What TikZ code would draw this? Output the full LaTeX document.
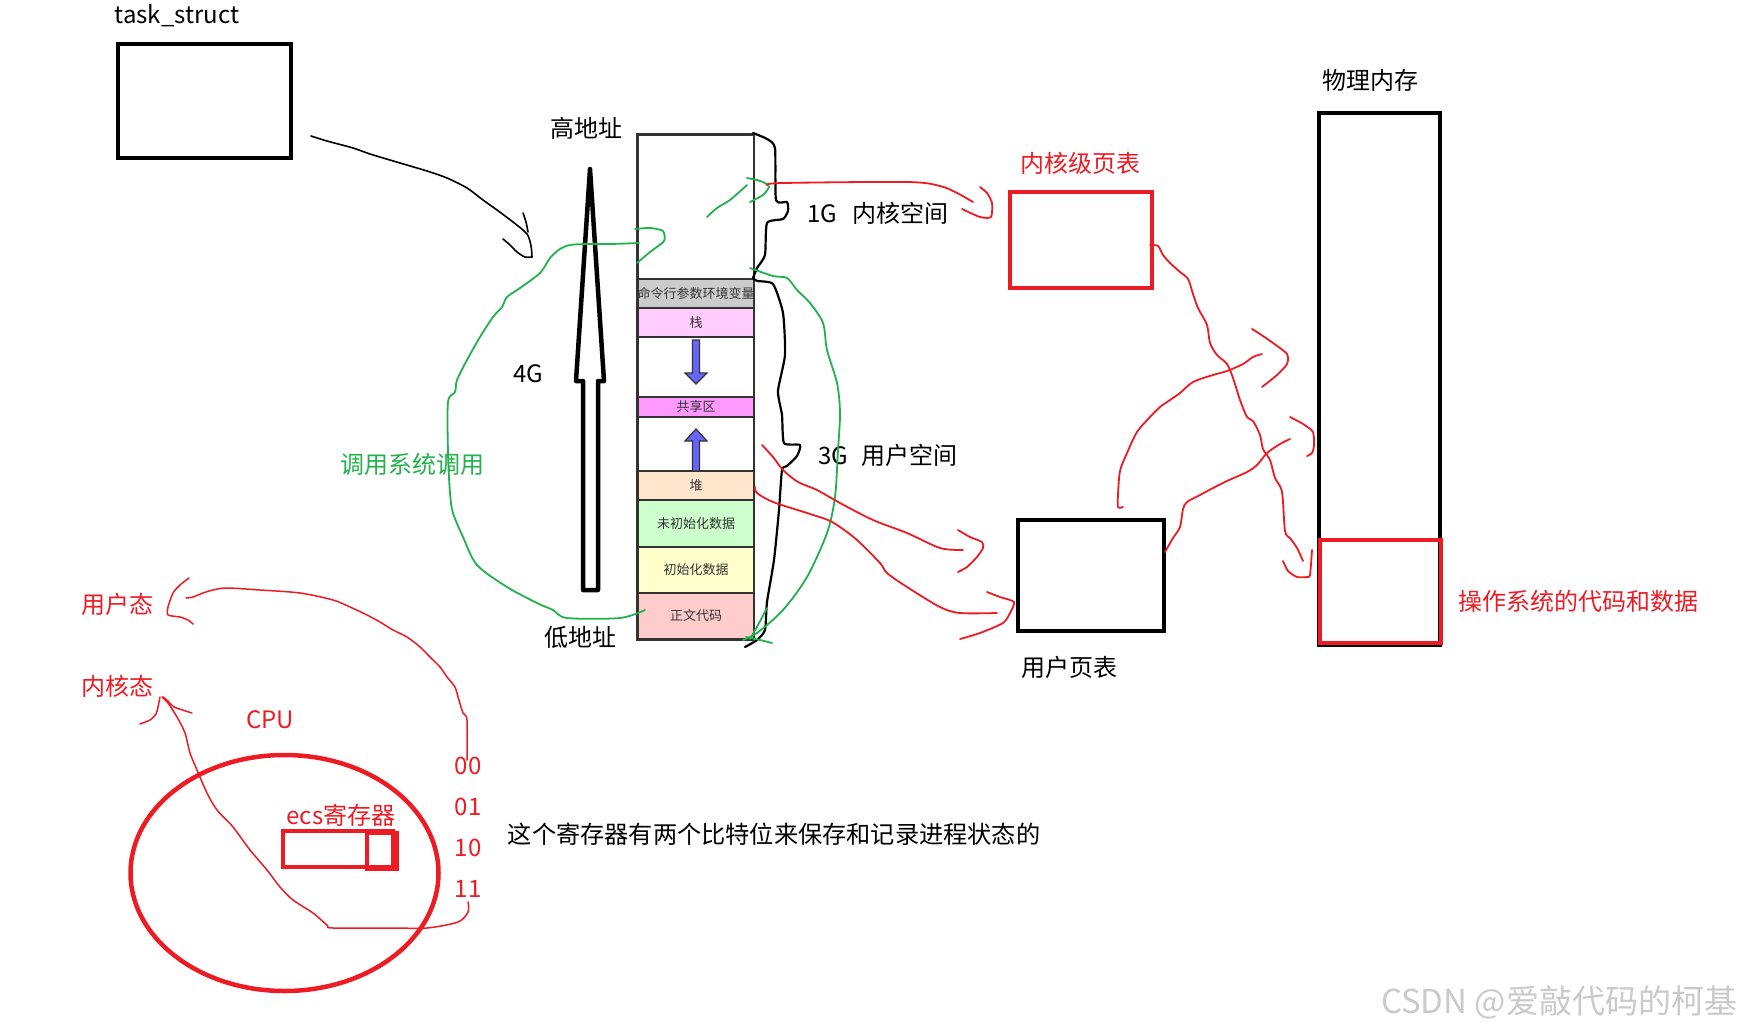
\documentclass[tikz,border=0pt]{standalone}
\usepackage{fontspec}
\setmainfont{Noto Sans CJK SC}
\definecolor{pred}{HTML}{ED1C24}
\definecolor{pgreen}{HTML}{22B14C}
\definecolor{segline}{HTML}{333333}
\definecolor{cgray}{HTML}{CCCCCC}
\definecolor{cstack}{HTML}{FFCCFF}
\definecolor{cshare}{HTML}{FF99FF}
\definecolor{cheap}{HTML}{FFE5CC}
\definecolor{cbss}{HTML}{CCFFCC}
\definecolor{cdata}{HTML}{FFFFCC}
\definecolor{ctext}{HTML}{FFCCCC}
\definecolor{parrow}{HTML}{6666FF}
\definecolor{wmark}{HTML}{CACACA}
\begin{document}
\begin{tikzpicture}[x=1pt,y=-1pt,
  hand/.style={line width=1.8pt, line cap=round, line join=round},
  redhand/.style={hand, draw=pred},
  greenhand/.style={hand, draw=pgreen},
  blackhand/.style={hand, draw=black},
  lbl/.style={font=\fontsize{24}{28}\selectfont, inner sep=0pt},
  seglbl/.style={font=\fontsize{13}{15}\selectfont, text=segline, inner sep=0pt},
  seg/.style={draw=none, minimum width=116pt, inner sep=0pt},
  bigbox/.style={draw, line width=4pt},
]
\useasboundingbox (0,0) rectangle (1741,1034);
\fill[white] (0,0) rectangle (1741,1034);

% ---------- task_struct ----------
\node[lbl] (tslbl) at (177,16) {task\_struct};
\draw[bigbox] (118,44) rectangle (291,158);
\coordinate (tsbox) at (204,101);

% black arrow towards address space
\draw[blackhand, line width=1.6pt] plot[smooth, tension=0.5] coordinates {(311,136) (327,141) (353,148) (370,154) (400,163) (427,171) (447,178) (467,188) (483,200) (497,210) (513,222) (527,234) (531,246) (532,257)};
\draw[blackhand, line width=1.6pt] plot[smooth, tension=0.5] coordinates {(532,257) (525,257) (517,252) (510,245) (503,239)};
\draw[blackhand, line width=1.6pt] plot[smooth, tension=0.5] coordinates {(523,213) (526,222) (528,232)};

% ---------- labels around column ----------
\node[lbl] (high) at (586,128) {高地址};
\node[lbl] (low) at (580,637) {低地址};
\node[lbl] (fourg) at (528,374) {4G};
\node[lbl, text=pgreen] (syscall) at (412,464) {调用系统调用};

% big up arrow
\draw[line width=4.5pt, line join=round, fill=white] (590,169) -- (604,381) -- (598,381) -- (598,590) -- (583,590) -- (583,381) -- (576,381) -- cycle;

% ---------- memory column ----------
\node[seg, fill=white, minimum height=145pt] (segtop) at (696,206.5) {};
\node[seg, fill=cgray, minimum height=29pt] (segenv) at (696,293.5) {};
\node[seglbl] at (segenv) {命令行参数环境变量};
\node[seg, fill=cstack, minimum height=29pt] (segstack) at (696,322.5) {};
\node[seglbl] at (segstack) {栈};
\node[seg, fill=white, minimum height=60pt] (gap1) at (696,367) {};
\node[seg, fill=cshare, minimum height=20pt] (segshare) at (696,407) {};
\node[seglbl] at (segshare) {共享区};
\node[seg, fill=white, minimum height=54pt] (gap2) at (696,444) {};
\node[seg, fill=cheap, minimum height=29pt] (segheap) at (696,485.5) {};
\node[seglbl] at (segheap) {堆};
\node[seg, fill=cbss, minimum height=47pt] (segbss) at (696,523.5) {};
\node[seglbl] at (segbss) {未初始化数据};
\node[seg, fill=cdata, minimum height=46pt] (segdata) at (696,570) {};
\node[seglbl] at (segdata) {初始化数据};
\node[seg, fill=ctext, minimum height=46pt] (segtext) at (696,616) {};
\node[seglbl] at (segtext) {正文代码};
\foreach \yy in {279,308,337,397,417,471,500,547,593}
  \draw[segline, line width=2.6pt] (637,\yy) -- (754,\yy);
\draw[segline, line width=1.1pt] (754,134) -- (754,639);
\draw[segline, line width=3pt, line join=miter] (754,134) -- (637,134) -- (637,639) -- (754,639);

% blue arrows
\draw[segline, fill=parrow, line width=1.2pt, line join=miter] (692.5,340) -- (699.5,340) -- (699.5,373) -- (707,373) -- (696,384) -- (685,373) -- (692.5,373) -- cycle;
\draw[segline, fill=parrow, line width=1.2pt, line join=miter] (692.5,471) -- (699.5,471) -- (699.5,441) -- (707,441) -- (696,429) -- (685,441) -- (692.5,441) -- cycle;

% black hand brace on the right of the column
\draw[blackhand, line width=2.2pt] plot[smooth, tension=0.35] coordinates {(753,133) (767,139) (775,148) (776,200) (787,202) (788,211) (783,219) (767,223) (765,255) (757,268) (753,278)};
\draw[blackhand, line width=2.2pt] plot[smooth, tension=0.35] coordinates {(753,278) (757,281) (773,284) (783,313) (785,355) (778,391) (782,415) (784,443) (800,445) (797,456) (787,466) (782,470) (779,510) (774,560) (767,602) (765,630) (757,640) (745,647)};

\node[lbl] (kspace) at (878,213) {1G\hspace{16pt}内核空间};
\node[lbl] (uspace) at (888,455) {3G\hspace{14pt}用户空间};

% green strokes
\draw[greenhand] plot[smooth, tension=0.5] coordinates {(639,243) (610,244) (587,244) (570,245) (560,249) (550,258) (540,273) (520,288) (507,297) (502,307) (493,317) (480,337) (467,360) (457,380) (455,392) (448,402) (448,453) (450,493) (453,513) (463,537) (477,565) (507,587) (537,603) (553,610) (567,618) (620,618) (645,610)};
\draw[greenhand] plot[smooth, tension=0.4] coordinates {(635,229) (650,228) (663,231) (664,241) (650,252) (637,263)};
\draw[greenhand] plot[smooth, tension=0.5] coordinates {(707,217) (717,208) (730,200) (747,185)};
\draw[greenhand] plot[smooth, tension=0.4] coordinates {(747,178) (757,180) (765,183) (769,187) (763,195) (750,202)};
\draw[greenhand] plot[smooth, tension=0.5] coordinates {(750,268) (773,276) (787,278) (797,290) (810,303) (823,323) (827,350) (837,383) (840,413) (838,450) (835,497) (827,533) (807,577) (783,610) (757,633) (743,640)};
\draw[greenhand] plot[smooth, tension=0.5] coordinates {(767,608) (758,625) (750,639)};
\draw[greenhand] plot[smooth, tension=0.5] coordinates {(746,637) (760,640) (772,643)};

% ---------- page tables and physical memory ----------
\node[lbl, text=pred] (kptlbl) at (1080,163) {内核级页表};
\draw[bigbox, draw=pred] (1010,192) rectangle (1152,288);
\coordinate (kpt) at (1081,240);
\node[lbl] (uptlbl) at (1069,667) {用户页表};
\draw[bigbox] (1018,520) rectangle (1164,631);
\coordinate (upt) at (1091,575);
\node[lbl] (physlbl) at (1370,80) {物理内存};
\draw[bigbox] (1319,113) rectangle (1440,645);
\draw[bigbox, draw=pred] (1320,540) rectangle (1441,643);
\node[lbl, text=pred] (oslbl) at (1578,601) {操作系统的代码和数据};

% red strokes: kernel space -> kernel page table
\draw[redhand] plot[smooth, tension=0.5] coordinates {(767,185) (783,183) (907,182) (940,186) (957,193) (973,202)};
\draw[redhand] plot[smooth, tension=0.4] coordinates {(980,187) (987,193) (992,203) (991,217) (980,217) (962,209)};

% red strokes: user space -> user page table
\draw[redhand] plot[smooth, tension=0.5] coordinates {(762,445) (773,457) (783,470) (798,482) (817,490) (840,503) (873,520) (907,533) (940,548) (963,550)};
\draw[redhand] plot[smooth, tension=0.4] coordinates {(958,530) (970,537) (982,542) (983,548) (977,557) (967,567) (958,572)};
\draw[redhand] plot[smooth, tension=0.5] coordinates {(755,487) (757,493) (773,502) (807,513) (828,520) (840,527) (857,540) (880,563) (887,573) (907,587) (940,607) (960,613) (997,613)};
\draw[redhand] plot[smooth, tension=0.4] coordinates {(987,592) (1000,597) (1014,602) (1010,613) (1003,623) (980,633) (960,639)};

% red strokes: page tables -> physical memory
\draw[redhand] plot[smooth, tension=0.5] coordinates {(1150,245) (1158,246) (1163,255) (1170,263) (1180,272) (1188,279) (1193,294) (1198,308) (1207,325) (1210,343) (1217,355) (1227,364) (1233,378) (1240,400) (1247,417) (1253,421) (1260,435) (1263,449) (1270,460) (1275,478) (1282,492) (1285,531) (1290,538) (1297,548) (1303,561)};
\draw[redhand] plot[smooth, tension=0.4] coordinates {(1312,550) (1310,575) (1307,577) (1297,577) (1288,571) (1283,561)};
\draw[redhand] plot[smooth, tension=0.5] coordinates {(1123,507) (1118,507) (1118,495) (1120,471) (1127,453) (1137,432) (1150,417) (1160,407) (1170,400) (1180,393) (1193,382) (1213,375) (1227,371) (1243,364) (1253,357) (1262,354)};
\draw[redhand] plot[smooth, tension=0.4] coordinates {(1252,329) (1260,334) (1273,343) (1287,354) (1287,364) (1277,375) (1262,387)};
\draw[redhand] plot[smooth, tension=0.5] coordinates {(1165,552) (1173,538) (1180,527) (1183,509) (1187,502) (1200,495) (1213,488) (1227,481) (1247,472) (1257,465) (1267,453) (1280,444) (1290,439)};
\draw[redhand] plot[smooth, tension=0.4] coordinates {(1290,417) (1303,424) (1313,432) (1314,446) (1312,453) (1307,456)};

% ---------- CPU part ----------
\node[lbl, text=pred] (userst) at (117,604) {用户态};
\node[lbl, text=pred] (kernst) at (117,686) {内核态};
\node[lbl, text=pred] (cpulbl) at (270,720) {CPU};
\draw[pred, line width=4.5pt] (284.5,873) ellipse [x radius=154, y radius=118];
\node[lbl, text=pred] (ecslbl) at (341,815) {ecs寄存器};
\draw[pred, line width=4pt] (283,831) rectangle (393,867);
\draw[pred, line width=4pt] (367,833) rectangle (397,869);
\node[lbl, text=pred] (b00) at (468,766) {00};
\node[lbl, text=pred] (b01) at (468,807) {01};
\node[lbl, text=pred] (b10) at (468,848) {10};
\node[lbl, text=pred] (b11) at (468,889) {11};
\node[font=\fontsize{24.2}{28}\selectfont, inner sep=0pt] (note) at (774,834) {这个寄存器有两个比特位来保存和记录进程状态的};

% 00 -> user state
\draw[redhand, line width=1.5pt] plot[smooth, tension=0.5] coordinates {(467,760) (467,720) (463,713) (458,697) (455,687) (447,677) (440,667) (430,657) (420,647) (407,637) (393,630) (380,622) (367,615) (350,607) (333,600) (300,593) (260,590) (227,588) (213,590) (203,593) (193,597) (186,598)};
\draw[redhand, line width=1.5pt] plot[smooth, tension=0.4] coordinates {(189,578) (180,585) (173,593) (168,607) (168,615) (180,617) (188,620) (193,624)};
% 11 -> kernel state
\draw[redhand, line width=1.5pt] plot[smooth, tension=0.5] coordinates {(468,902) (468,912) (458,922) (427,928) (393,928) (333,928) (327,925) (313,913) (293,900) (280,887) (267,870) (250,850) (233,827) (217,810) (207,793) (197,770) (190,753) (185,733) (177,717) (168,703) (162,697)};
\draw[redhand, line width=1.5pt] plot[smooth, tension=0.4] coordinates {(160,697) (158,707) (156,714) (150,720) (140,724)};
\draw[redhand, line width=1.5pt] plot[smooth, tension=0.4] coordinates {(163,697) (168,701) (174,707) (192,713)};

% watermark
\node[font=\fontsize{33}{37}\selectfont, text=wmark, inner sep=0pt] (wm) at (1559,1002) {CSDN @爱敲代码的柯基};
\end{tikzpicture}
\end{document}
